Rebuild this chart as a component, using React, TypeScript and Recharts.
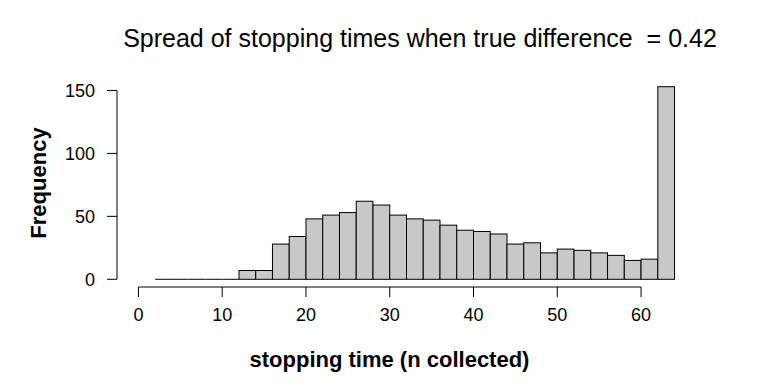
import { ComposedChart, Bar, XAxis, YAxis, ReferenceLine } from "recharts";

// histogram bins (left edges), width 2
const binStarts = [2, 4, 6, 8, 10, 12, 14, 16, 18, 20, 22, 24, 26, 28, 30, 32, 34, 36, 38, 40, 42, 44, 46, 48, 50, 52, 54, 56, 58, 60, 62];
const counts = [0, 0, 0, 0, 0, 7, 7, 28, 34, 48, 51, 53, 62, 59, 51, 48, 47, 43, 39, 38, 36, 28, 29, 21, 24, 23, 21, 19, 15, 16, 153];
const binWidth = 2;

const xTicks = [0, 10, 20, 30, 40, 50, 60];
const yTicks = [0, 50, 100, 150];

// R-style 4% padding around xlim c(0, 64) and ylim c(0, 153)
const xDomain = [-2.56, 66.56];
const yDomain = [-6.12, 159.12];

const data = binStarts.map((s, i) => ({ mid: s + binWidth / 2, count: counts[i] }));

const W = 768;
const H = 384;
const margin = { top: 79, right: 72, bottom: 0, left: 0 };
const yAxisWidth = 117;
const xAxisHeight = 97;
const plotW = W - margin.left - margin.right - yAxisWidth;
// a hair under the bin spacing so recharts doesn't shrink bars to 90%
const barSize = (plotW * binWidth) / (xDomain[1] - xDomain[0]) - 0.01;

const font = "'Liberation Sans', Arial, Helvetica, sans-serif";

const HistBar = (props: any) => {
  const { x, y, width, height } = props;
  if (!height) {
    return <line x1={x} x2={x + width} y1={y} y2={y} stroke="#000" strokeWidth={1} />;
  }
  return <rect x={x} y={y} width={width} height={height} fill="#c8c8c8" stroke="#000" strokeWidth={1} />;
};

export default function App() {
  return (
    <div style={{ position: "absolute", left: 0, top: 0, width: W, height: H, background: "#fff", fontFamily: font }}>
      <div style={{ position: "absolute", left: 0, width: 840, top: 24, textAlign: "center", fontSize: 25, color: "#000", whiteSpace: "pre" }}>
        {"Spread of stopping times when true difference  = 0.42"}
      </div>
      <ComposedChart width={W} height={H} data={data} margin={margin} style={{ fontFamily: font }}>
        <XAxis
          dataKey="mid"
          type="number"
          domain={xDomain}
          ticks={xTicks}
          allowDataOverflow
          axisLine={false}
          tickLine={{ stroke: "#000" }}
          tickSize={10}
          tickMargin={11}
          height={xAxisHeight}
          interval={0}
          tick={{ fill: "#000", fontSize: 18 }}
          label={{
            content: ({ viewBox }: any) => (
              <text x={viewBox.x + viewBox.width / 2 - 17} y={viewBox.y + 80} textAnchor="middle" fontSize={22} fontWeight="bold" fill="#000">
                stopping time (n collected)
              </text>
            ),
          }}
        />
        <YAxis
          type="number"
          domain={yDomain}
          ticks={yTicks}
          allowDataOverflow
          axisLine={false}
          tickLine={{ stroke: "#000" }}
          tickSize={10}
          tickMargin={12}
          width={yAxisWidth}
          interval={0}
          tick={{ fill: "#000", fontSize: 18 }}
          label={{
            content: ({ viewBox }: any) => {
              const cx = viewBox.x + 38;
              const cy = viewBox.y + viewBox.height / 2;
              return (
                <text x={cx} y={cy} transform={`rotate(-90 ${cx} ${cy})`} textAnchor="middle" dominantBaseline="central" fontSize={22} fontWeight="bold" fill="#000">
                  Frequency
                </text>
              );
            },
          }}
        />
        <ReferenceLine segment={[{ x: xTicks[0], y: yDomain[0] }, { x: xTicks[xTicks.length - 1], y: yDomain[0] }]} stroke="#000" ifOverflow="visible" />
        <ReferenceLine segment={[{ x: xDomain[0], y: yTicks[0] }, { x: xDomain[0], y: yTicks[yTicks.length - 1] }]} stroke="#000" ifOverflow="visible" />
        <Bar dataKey="count" barSize={barSize} shape={HistBar} isAnimationActive={false} />
      </ComposedChart>
    </div>
  );
}
